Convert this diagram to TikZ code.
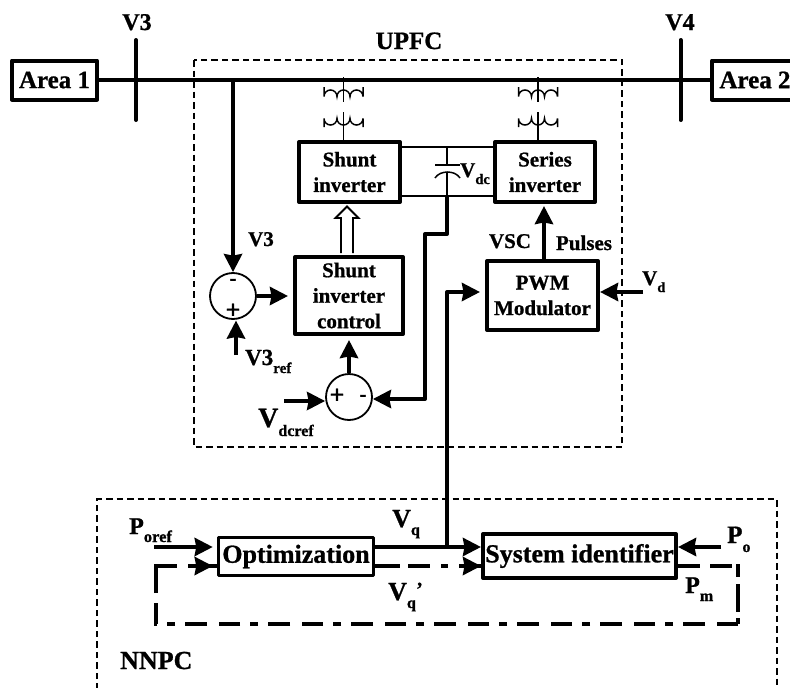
\documentclass[tikz,border=0pt]{standalone}
\usepackage{fontspec}
\setmainfont{Liberation Serif}[BoldFeatures={FakeBold=0.9}]
\usetikzlibrary{arrows.meta}
\newcommand{\fsz}[1]{\fontsize{#1}{#1}\selectfont\bfseries}
\newcommand{\lowsub}[3]{\raisebox{-#1pt}{\fsz{#2}#3}}
\tikzset{
  x=1pt,y=-1pt,
  boxa/.style={draw,line width=4pt,inner sep=0pt,align=center,font=\fsz{21},line join=round},
  boxb/.style={boxa,font=\fsz{26}},
  lab/.style={inner sep=0pt,anchor=base,font=\fsz{#1}},
  lab/.default=21,
  labl/.style={inner sep=0pt,anchor=base west,font=\fsz{#1}},
  sumc/.style={draw,circle,line width=1.8pt,minimum size=46pt,inner sep=0pt},
  sign/.style={inner sep=0pt,font=\fsz{#1}},
  wire/.style={line width=4pt},
  thinw/.style={line width=1.5pt},
  arr/.style={line width=4pt,-{Stealth[length=18pt,width=18pt,inset=1.5pt]}},
  dbox/.style={line width=1.5pt,dash pattern=on 6.5pt off 4pt},
  loopw/.style={line width=4pt,dash pattern=#1},
}
\begin{document}
\begin{tikzpicture}
\useasboundingbox (0,0) rectangle (790,688);
\begin{scope}
\clip (0,0) rectangle (790,688);
% dashed enclosures
\draw[dbox] (194,60) rectangle (622,447);
\draw[dbox] (97,700) -- (97,499) -- (777,499) -- (777,700);
% areas and bus
\node[boxa,font=\fsz{25},minimum width=85pt,minimum height=39pt] (area1) at (54.5,80) {Area 1};
\node[boxa,font=\fsz{25},minimum width=86pt,minimum height=39pt] (area2) at (755,80) {Area 2};
\draw[wire] (area1.east) -- (area2.west);
\coordinate (v3t) at (136,40);
\coordinate (v3b) at (136,120);
\coordinate (v4t) at (680.5,40);
\coordinate (v4b) at (680.5,120);
\draw[wire,line cap=round] (v3t) -- (v3b);
\draw[wire,line cap=round] (v4t) -- (v4b);
\node[lab=24] at (137,30) {V3};
\node[lab=24] at (680,30) {V4};
\node[lab=25] at (409,49) {UPFC};
% inverters
\node[boxa,minimum width=101pt,minimum height=60pt] (shunt) at (349.5,172) {Shunt\\[4.5pt]inverter};
\node[boxa,minimum width=100pt,minimum height=60pt] (series) at (545,172) {Series\\[4.5pt]inverter};
\node[boxa,minimum width=108pt,minimum height=77pt] (sctrl) at (349,295.5) {Shunt\\[4.5pt]inverter\\[4.5pt]control};
\node[boxa,minimum width=111pt,minimum height=69pt] (pwm) at (542.5,295.5) {PWM\\[4.5pt]Modulator};
% transformers
\foreach \cx/\nm in {343.5/ta,538/tb}{
  \coordinate (\nm) at (\cx,77);
  \draw[thinw] (\nm) -- (\cx,102);
  \draw[thinw] (\cx-19.5,87) -- (\cx-19.5,96.5)
    arc[start angle=180,end angle=360,radius=6.5]
    arc[start angle=180,end angle=360,radius=6.5]
    arc[start angle=180,end angle=360,radius=6.5] -- (\cx+19.5,87);
  \draw[thinw] (\cx-19.5,127) -- (\cx-19.5,118.5)
    arc[start angle=180,end angle=0,radius=6.5]
    arc[start angle=180,end angle=0,radius=6.5]
    arc[start angle=180,end angle=0,radius=6.5] -- (\cx+19.5,127);
  \draw[thinw] (\cx,112) -- (\cx,140);
}
% dc link
\draw[line width=1.8pt] (shunt.east |- 0,147) -- (series.west |- 0,147);
\draw[line width=1.8pt] (shunt.east |- 0,196) -- (series.west |- 0,196);
\coordinate (capt) at (447,147);
\coordinate (capb) at (447,196);
\draw[thinw] (capt) -- (447,165);
\draw[thinw] (435,165) -- (460,165);
\draw[thinw] (435,178) .. controls (440,170) and (455,170) .. (460,178);
\draw[thinw] (447,172) -- (capb);
\node[labl=21] at (460,177) {V\lowsub{7}{14.5}{dc}};
% hollow arrow
\draw[line width=1.8pt,fill=white] (341,253) -- (341,218) -- (335.5,218) -- (347,206.5) -- (358.5,218) -- (353,218) -- (353,253);
% series arrow
\draw[arr] (544,259) -- (544,206);
\node[lab] at (510,248) {VSC};
\node[lab] at (584,250) {Pulses};
% summers
\node[sumc] (sum1) at (233,296) {};
\node[sumc] (sum2) at (349,397) {};
\node[sign=21] at (233,282) {-};
\node[sign=26] at (233,311) {+};
\node[sign=26] at (337,396) {+};
\node[sign=21] at (363,398) {-};
\coordinate (v3j) at (233,80);
\draw[arr] (v3j) -- (sum1.north);
\draw[arr] (sum1.east) -- ([xshift=-5pt]sctrl.west |- sum1.east);
\coordinate (v3r) at (236,355);
\draw[arr] (v3r) -- (236,320.5);
\node[lab] at (261,246) {V3};
\node[labl=23] at (245,365) {V3\lowsub{8}{15}{ref}};
\draw[arr] (sum2.north) -- (sctrl.south |- 0,340);
\coordinate (vdr) at (284,401);
\draw[arr] (vdr) -- (sum2.west |- vdr);
\node[labl=28] at (258,427) {V\lowsub{9}{16}{dcref}};
% feedback
\draw[wire,line join=round] (447,196) -- (447,234) -- (425,234) -- (425,399) -- (400,399);
\draw[arr] (425,399) -- (sum2.east |- 0,399);
% PWM inputs
\coordinate (vd) at (643,292);
\draw[arr] (vd) -- (pwm.east |- vd);
\node[labl=21] at (642,285) {V\lowsub{7}{14}{d}};
% NNPC
\node[boxb,line width=3.5pt,minimum width=155pt,minimum height=38pt] (opt) at (296,556.5) {Optimization};
\node[boxb,minimum width=193pt,minimum height=44pt] (sys) at (579.5,556) {System identifier};
\coordinate (poref) at (154,547);
\draw[arr,shorten >=4pt] (poref) -- (opt.west |- poref);
\draw[arr] (opt.east |- poref) -- (sys.west |- poref);
\coordinate (vqj) at (447,547);
\draw[arr,line join=round,shorten >=5pt] (vqj) -- (447,292) -- (pwm.west |- 0,292);
\coordinate (po) at (721,547);
\draw[arr] (po) -- (sys.east |- po);
% Vq' feedback loop
\draw[loopw={on 25pt off 8pt on 22pt off 11pt on 7pt off 11pt on 30pt}] (opt.east |- 0,566) -- (sys.west |- 0,566);
\draw[arr] (462,566) -- (sys.west |- 0,566);
\draw[loopw={on 22pt off 10pt on 22pt off 4pt on 13pt off 7pt on 28pt off 6pt on 7pt off 100pt}] (sys.east |- 0,566) -- (738,566) -- (738,624);
\draw[loopw={on 21pt off 12pt on 22pt off 10pt on 8pt off 10pt}] (738,624) -- (154,624);
\draw[loopw={on 21pt off 10pt on 27pt off 100pt}] (156,624) -- (156,564);
\draw[loopw={on 23pt off 11pt on 40pt}] (154,566) -- (opt.west |- 0,566);
\draw[arr,shorten >=4pt] (190,566) -- (opt.west |- 0,566);
% labels
\node[labl=26] at (392,527) {V\lowsub{8}{16}{q}};
\node[labl=26] at (388,600) {V\lowsub{8}{16}{q}};
\node[labl=20] at (416,596) {'};
\node[labl=24] at (129,534) {P\lowsub{8}{16.5}{oref}};
\node[labl=26] at (120,669) {NNPC};
\node[labl=25] at (727,543) {P\lowsub{9}{16}{o}};
\node[labl=24] at (685,593) {P\lowsub{8}{16}{m}};
\end{scope}
\end{tikzpicture}
\end{document}
